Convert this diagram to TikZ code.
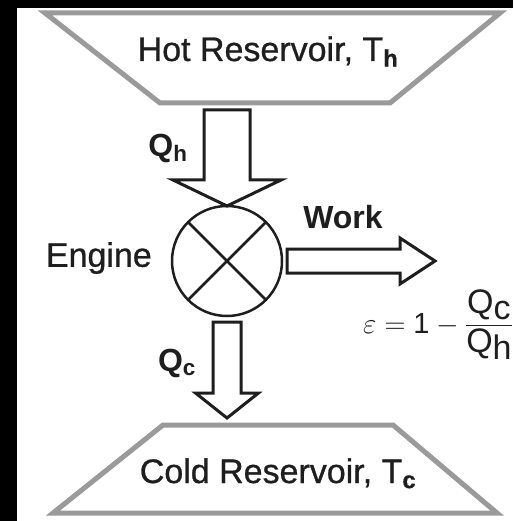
\documentclass[tikz,border=0pt]{standalone}
\usepackage{fix-cm}
\usepackage{amsmath}
\usepackage{fontspec}
\setmainfont{Liberation Sans}
\newfontfamily\heavysans[FakeBold=0.8]{Liberation Sans}
\usepackage{tikz}
\usetikzlibrary{positioning}
\definecolor{Ink}{HTML}{1E1E1E}
\definecolor{ResGray}{HTML}{9A9A9A}

\begin{document}
\begin{tikzpicture}[x=1pt, y=-1pt,
      resv/.style={draw=ResGray, line width=5pt},
      flow/.style={draw=Ink, line width=3pt, fill=white},
      lbl/.style={inner sep=0pt, text=Ink, font=\fontsize{34}{40}\selectfont\heavysans},
      qlbl/.style={inner sep=0pt, text=Ink, font=\fontsize{32}{36}\selectfont\bfseries},
      node distance=20pt
    ]
      % frame
      \fill[black] (0,0) rectangle (513,521);
      \fill[white] (17,8) rectangle (513,521);
      \useasboundingbox (0,0) rectangle (513,521);

      % reservoirs
      \draw[resv] (45,13) -- (500,13) -- (390,103) -- (160,103) -- cycle;
      \draw[resv] (163,425) -- (393,425) -- (497,513) -- (53,513) -- cycle;
      \node[lbl, anchor=base] (hot) at (268,61) {Hot Reservoir, T\textsubscript{\textbf{h}}};
      \node[lbl, anchor=base] (cold) at (278,483) {Cold Reservoir, T\textsubscript{\textbf{c}}};

      % engine
      \node[circle, draw=Ink, line width=2.5pt, minimum size=110pt, inner sep=0pt, outer sep=0pt] (eng) at (227,261) {};
      \draw[Ink, line width=2.5pt] (eng.45) -- (eng.225) (eng.135) -- (eng.315);
      \node[lbl, left=of eng, yshift=3pt] (englbl) {Engine};

      \coordinate (hotout) at (227,110);
      \coordinate[below=6pt of eng] (engout);
      \coordinate[right=5pt of eng] (workout);
      \coordinate (coldin) at (227,418);
      \coordinate (workend) at (435,261);

      % heat in, work out, heat out
      \draw[flow] (hotout) ++(-23,0) -- ++(46,0) -- ++(0,70) -- ++(31,0) -- (eng.north)
                  -- ++(-54,-26) -- ++(31,0) -- cycle;
      \draw[flow] (workout) ++(0,-12) -- ++(113,0) -- ++(0,-11) -- (workend)
                  -- ++(-35,23) -- ++(0,-11) -- ++(-113,0) -- cycle;
      \draw[flow] (engout) ++(-14,0) -- ++(28,0) -- ++(0,71) -- ++(17.5,0) -- (coldin)
                  -- ++(-31.5,-25) -- ++(17.5,0) -- cycle;

      \node[qlbl] (qh) at (168,148) {Q\textsubscript{h}};
      \node[qlbl] (qc) at (177,363) {Q\textsubscript{c}};
      \node[qlbl, anchor=base] (work) at (343,228) {Work};

      % efficiency
      \node[inner sep=0pt, anchor=base east, text=Ink, font=\fontsize{29}{34}\selectfont] (eff) at (513,333)
        {$\varepsilon = \mbox{1} - \dfrac{\mbox{\fontsize{34}{40}\selectfont Q\raisebox{-6pt}{c}}}{\mbox{\fontsize{34}{40}\selectfont Q\raisebox{-7pt}{h}}}$};
    \end{tikzpicture}
\end{document}
